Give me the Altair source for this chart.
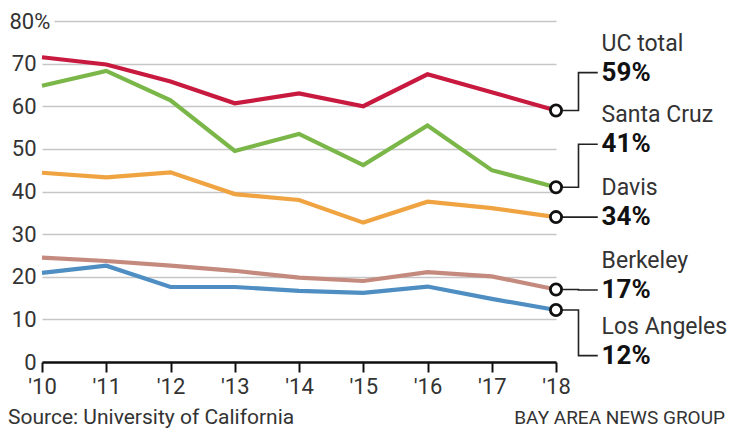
import json
import altair as alt
import pandas as pd

# ---------------- data ----------------
years = [2010, 2011, 2012, 2013, 2014, 2015, 2016, 2017, 2018]
year_labels = ["'10", "'11", "'12", "'13", "'14", "'15", "'16", "'17", "'18"]

uc_total = [71.5, 69.8, 65.8, 60.7, 63.0, 60.0, 67.5, 63.3, 59.0]
santa_cruz = [64.8, 68.3, 61.4, 49.5, 53.5, 46.2, 55.5, 45.0, 41.0]
davis = [44.4, 43.3, 44.5, 39.4, 38.0, 32.7, 37.6, 36.1, 34.0]
berkeley = [24.5, 23.7, 22.6, 21.4, 19.8, 19.0, 21.1, 20.1, 17.0]
los_angeles = [20.9, 22.6, 17.6, 17.6, 16.7, 16.2, 17.7, 14.8, 12.2]

series_names = ["UC total", "Santa Cruz", "Davis", "Berkeley", "Los Angeles"]
series_values = [uc_total, santa_cruz, davis, berkeley, los_angeles]
end_labels = ["59%", "41%", "34%", "17%", "12%"]
y_ticks = [0, 10, 20, 30, 40, 50, 60, 70, 80]

source_text = "Source: University of California"
credit_text = "BAY AREA NEWS GROUP"

# ---------------- annotation layout (label placement, data units) ----------------
label_y = [67.9, 51.1, 34.0, 16.9, 1.5]
elbow_x = 2018.35
line_end_x = 2018.65
text_x = 2018.71

colors = ["#c8193f", "#7ab648", "#f0a341", "#c58a7e", "#4e8ec2"]
FONT = "Roboto"

rows = []
for name, vals in zip(series_names, series_values):
    for y, v in zip(years, vals):
        rows.append({"series": name, "year": y, "value": v})
df = pd.DataFrame(rows)

last_year = years[-1]
ends = pd.DataFrame({
    "series": series_names,
    "year": [last_year] * len(series_names),
    "value": [vals[-1] for vals in series_values],
    "pct": end_labels,
    "ly": label_y,
    "tx": [text_x] * len(series_names),
})

conn_rows = []
for name, vals, ly in zip(series_names, series_values, label_y):
    pts = [(last_year, vals[-1]), (elbow_x, vals[-1]), (elbow_x, ly), (line_end_x, ly)]
    for k, (x, y) in enumerate(pts):
        conn_rows.append({"series": name, "k": k, "x": x, "y": y})
conn = pd.DataFrame(conn_rows)

xs = alt.Scale(domain=[years[0], years[-1]], nice=False, zero=False)
ys = alt.Scale(domain=[y_ticks[0], y_ticks[-1]], nice=False)

x_axis = alt.Axis(
    values=years,
    labelExpr=f"{json.dumps(year_labels)}[datum.value - {years[0]}]",
    title=None, grid=False,
    domainColor="#111", domainWidth=2.5,
    tickColor="#111", tickWidth=2, tickSize=10,
    labelFont=FONT, labelFontSize=22, labelColor="#333",
    labelPadding=4, labelFlush=False, labelOverlap=False,
)
y_axis = alt.Axis(
    values=y_ticks,
    labelExpr="datum.value == 80 ? '80%' : datum.label",
    title=None, domain=False, ticks=False, grid=True,
    gridColor="#c6c6c6", gridWidth=1.5,
    gridDash={"condition": {"test": "datum.value == 80", "value": [0, 12, 2000, 0]}, "value": []},
    labelAlign={"condition": {"test": "datum.value == 80", "value": "left"}, "value": "right"},
    labelPadding={"condition": {"test": "datum.value == 80", "value": 33}, "value": 6},
    labelFont=FONT, labelFontSize=22, labelColor="#333", labelBaseline="middle",
)

X = lambda f: alt.X(f, scale=xs, axis=x_axis)
Y = lambda f: alt.Y(f, scale=ys, axis=y_axis)

color = alt.Color("series:N", scale=alt.Scale(domain=series_names, range=colors), legend=None)

lines = alt.Chart(df).mark_line(strokeWidth=4.2, strokeJoin="miter").encode(
    x=X("year:Q"), y=Y("value:Q"), color=color,
)

connectors = alt.Chart(conn).mark_line(color="#222", strokeWidth=1.6, strokeJoin="miter").encode(
    x=X("x:Q"), y=Y("y:Q"), detail="series:N", order="k:O",
)

circles = alt.Chart(ends).mark_point(
    shape="circle", filled=True, fill="white", stroke="#111", strokeWidth=2.8, size=125, opacity=1
).encode(x=X("year:Q"), y=Y("value:Q"))

pct_text = alt.Chart(ends).mark_text(
    align="left", baseline="middle", font=FONT, fontSize=26, fontWeight="bold", color="#111"
).encode(x=X("tx:Q"), y=Y("ly:Q"), text="pct:N")

name_text = alt.Chart(ends).mark_text(
    align="left", baseline="middle", font=FONT, fontSize=23, color="#333", dy=-29
).encode(x=X("tx:Q"), y=Y("ly:Q"), text="series:N")

source = alt.Chart(pd.DataFrame({"t": [source_text]})).mark_text(
    align="left", baseline="alphabetic", font=FONT, fontSize=21, color="#333"
).encode(x=alt.value(-34), y=alt.value(403), text="t:N")

credit = alt.Chart(pd.DataFrame({"t": [credit_text]})).mark_text(
    align="right", baseline="alphabetic", font=FONT, fontSize=19, color="#333"
).encode(x=alt.value(683), y=alt.value(403), text="t:N")

chart = alt.layer(lines, connectors, circles, pct_text, name_text, source, credit).properties(
    width=514, height=341,
    autosize=alt.AutoSizeParams(type="none"),
    padding={"left": 34, "top": 13, "right": 172, "bottom": 66},
).configure(background="white").configure_view(stroke=None)

chart.save("out.html", embed_options={"renderer": "svg", "actions": False})
